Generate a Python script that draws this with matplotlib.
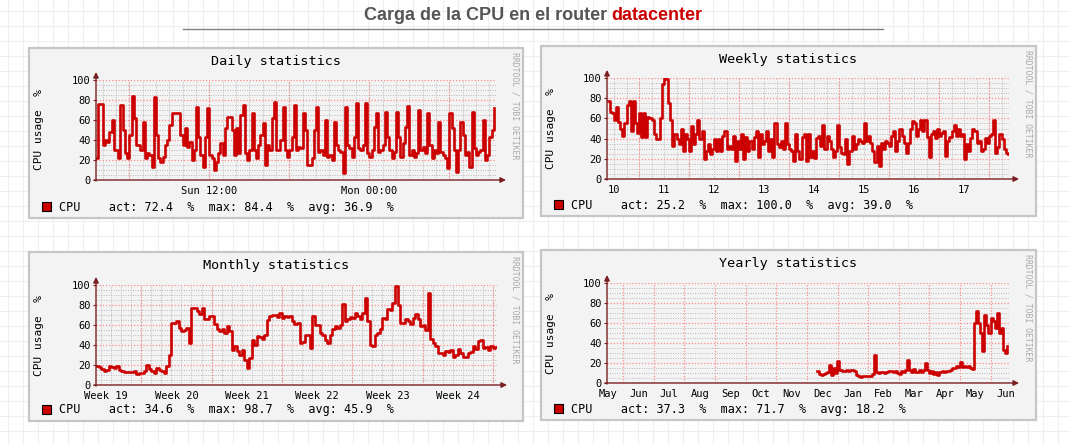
import matplotlib
matplotlib.use('Agg')
import matplotlib.pyplot as plt
from matplotlib.patches import Rectangle
from matplotlib.ticker import MultipleLocator
import numpy as np

plt.rcParams['font.family'] = 'DejaVu Sans Mono'

W, H = 1070, 445
RED = '#cc0000'
AXIS = '#7a2020'
MGRID = '#ff8c8c'
GRID = '#b8b8b8'

# --- daily: hours since Sun 00:00, one value every 10 minutes
daily_start = 3.5
daily_step = 1 / 6
daily_cpu = [22, 76, 76, 35, 40, 38, 48, 60, 30, 30,
             22, 75, 50, 27, 22, 45, 84.4, 62, 35, 35,
             30, 58, 22, 27, 25, 13, 83, 45, 22, 18,
             23, 35, 40, 55, 67, 67, 67, 67, 45, 35,
             52, 33, 38, 20, 30, 73, 43, 25, 13, 43,
             72, 25, 22, 10, 18, 27, 37, 25, 52, 63,
             63, 50, 25, 52, 27, 65, 75, 27, 20, 30,
             67, 30, 22, 35, 45, 57, 15, 35, 30, 62,
             78, 30, 30, 40, 73, 30, 23, 30, 43, 75,
             30, 33, 32, 67, 50, 15, 15, 22, 50, 73,
             28, 30, 25, 60, 23, 25, 20, 58, 35, 30,
             28, 7, 73, 35, 32, 23, 43, 77, 32, 30,
             35, 77, 27, 23, 30, 53, 67, 28, 30, 35,
             68, 43, 30, 22, 28, 68, 43, 23, 37, 53,
             74, 25, 30, 23, 27, 70, 30, 33, 27, 67,
             35, 22, 30, 27, 58, 28, 25, 22, 12, 67,
             52, 30, 8, 30, 58, 45, 25, 28, 13, 68,
             32, 25, 28, 30, 60, 20, 25, 43, 50, 72.4]
daily_labels = ['Sun 12:00', 'Mon 00:00']
daily_label_x = [12, 24]
daily_stats = ('72.4', '84.4', '36.9')

# --- weekly: day of month, one value per hour
weekly_start = 10.375
weekly_step = 1 / 24
weekly_cpu = [77, 66, 65, 58, 71, 56, 50, 43, 55, 73,
              77, 48, 77, 55, 46, 65, 42, 65, 42, 61,
              60, 58, 45, 40, 40, 60, 94, 100, 99, 75,
              58, 33, 45, 40, 35, 50, 28, 45, 40, 28,
              52, 35, 45, 58, 40, 48, 20, 28, 35, 25,
              30, 40, 28, 40, 28, 43, 48, 30, 33, 30,
              43, 18, 38, 30, 45, 20, 42, 28, 38, 30,
              42, 48, 22, 45, 35, 38, 48, 28, 40, 22,
              55, 35, 32, 38, 30, 55, 35, 30, 28, 18,
              45, 28, 20, 42, 45, 18, 45, 22,
              28, 21, 41, 43, 33, 53, 30, 43, 38, 30,
              22, 28, 53, 32, 26, 25, 40, 15, 28, 43,
              30, 35, 40, 38, 36, 55, 38, 43, 36, 28,
              17, 33, 13, 36, 30, 38, 36, 33, 43, 48,
              28, 38, 50, 43, 36, 26, 36, 50, 57, 55,
              43, 50, 58, 48, 58, 42, 22, 45, 48, 41,
              50, 43, 46, 48, 23, 38, 42, 48, 53, 43,
              50, 43, 45, 20, 35, 28, 41, 50, 48, 36,
              38, 28, 30, 41, 36, 43, 45, 58, 26, 32,
              45, 40, 30, 26, 25.2]
weekly_labels = ['10', '11', '12', '13', '14', '15', '16', '17']
weekly_stats = ('25.2', '100.0', '39.0')

# --- monthly: days, one value every 6 hours
monthly_start = 2.5
monthly_step = 0.25
monthly_cpu = [19, 18, 16, 14, 15, 19, 18, 17, 19, 15,
               14, 13, 13, 13, 13, 14, 11, 12, 12, 14,
               20, 16, 14, 12, 17, 15, 14, 12, 19, 30,
               62, 62, 64, 57, 54, 55, 57, 42, 77, 77,
               74, 71, 77, 66, 66, 69, 69, 61, 56, 54,
               56, 52, 59, 54, 35, 39, 34, 30, 35, 25,
               17, 27, 45, 40, 49, 48, 46, 50, 65, 69,
               70, 70, 68, 72, 67, 69, 68, 69, 64, 61,
               62, 42, 43, 50, 50, 37, 69, 60, 60, 52,
               50, 45, 42, 50, 56, 59, 57, 60, 81, 64,
               66, 68, 67, 72, 69, 66, 72, 87, 64, 40,
               39, 50, 52, 56, 67, 66, 76, 75, 82, 98.7,
               80, 62, 62, 66, 64, 61, 67, 71, 66, 59,
               60, 55, 92, 46, 42, 39, 32, 32, 30, 34,
               33, 35, 28, 30, 36, 32, 28, 28, 32, 33,
               39, 36, 44, 45, 37, 38, 35, 39, 37, 38,
               34.6]
monthly_labels = ['Week 19', 'Week 20', 'Week 21', 'Week 22', 'Week 23', 'Week 24']
monthly_stats = ('34.6', '98.7', '45.9')

# --- yearly: months since May 1st, one value every 2 days
yearly_start = 7.33
yearly_step = 1 / 15
yearly_cpu = [12, 9, 8, 9, 10, 11, 18, 8, 15, 10,
              22, 13, 12, 12, 13, 12, 13, 13, 12, 8,
              7, 6, 7, 7, 7, 7, 7, 9, 28, 11,
              10, 11, 11, 10, 11, 12, 12, 11, 12, 10,
              9, 12, 11, 13, 23, 13, 11, 14, 11, 11,
              13, 11, 13, 20, 13, 10, 12, 9, 11, 8,
              11, 12, 11, 12, 12, 13, 15, 15, 17, 16,
              21, 16, 17, 16, 17, 15, 14, 60, 71.7, 60,
              50, 32, 68, 58, 50, 65, 62, 55, 70, 50,
              55, 33, 30, 37.3]
yearly_labels = ['May', 'Jun', 'Jul', 'Aug', 'Sep', 'Oct', 'Nov',
                 'Dec', 'Jan', 'Feb', 'Mar', 'Apr', 'May', 'Jun']
yearly_stats = ('37.3', '71.7', '18.2')

fig = plt.figure(figsize=(W / 100, H / 100), dpi=100)

# page background with its faint square pattern
bg = fig.add_axes([0, 0, 1, 1])
bg.set_xlim(0, W)
bg.set_ylim(H, 0)
bg.set_axisbelow(True)
bg.set_xticks(np.arange(8, W, 15))
bg.set_yticks(np.arange(11, H, 15))
bg.grid(color='#efefef', lw=0.8)
bg.tick_params(length=0, labelbottom=False, labelleft=False)
for s in bg.spines.values():
    s.set_visible(False)

# page title in two colours
r = fig.canvas.get_renderer()
t1 = bg.text(0, 16, 'Carga de la CPU en el router', color='#555555', fontsize=13,
             fontweight='bold', family='Liberation Sans', va='center', ha='left')
t2 = bg.text(0, 16, 'datacenter', color=RED, fontsize=13,
             fontweight='bold', family='Liberation Sans', va='center', ha='left')
w1 = t1.get_window_extent(r).width
w2 = t2.get_window_extent(r).width
gap = 4
x_start = 533 - (w1 + gap + w2) / 2
t1.set_x(x_start)
t2.set_x(x_start + w1 + gap)
bg.plot([183, 883], [29, 29], color='#808080', lw=1)


def panel(box, area, title, t, v, xlim, red_x, minor_step, label_x, labels, stats):
    x0, y0, x1, y1 = box
    bg.add_patch(Rectangle((x0, y0), x1 - x0, y1 - y0, facecolor='#f3f3f3',
                           edgecolor='#c6c6c6', lw=1.6, zorder=1))
    ax = fig.add_axes([area[0] / W, 1 - area[3] / H,
                       (area[2] - area[0]) / W, (area[3] - area[1]) / H])
    ax.set_facecolor('none')
    ax.step(t, v, where='post', color=RED, lw=1.9, zorder=4)
    ax.set_xlim(xlim)
    ax.set_ylim(0, 100)
    for s in ax.spines.values():
        s.set_visible(False)

    ax.set_yticks(range(0, 101, 20))
    ax.yaxis.set_minor_locator(MultipleLocator(5))
    ax.grid(axis='y', which='major', color=MGRID, ls=(0, (1, 1.5)), lw=0.9, zorder=1)
    ax.grid(axis='y', which='minor', color=GRID, ls=(0, (1, 1.5)), lw=0.7, zorder=1)
    ax.xaxis.remove_overlapping_locs = False
    if minor_step:
        ax.xaxis.set_minor_locator(MultipleLocator(minor_step))
        ax.grid(axis='x', which='minor', color=GRID, ls=(0, (1, 1.5)), lw=0.7, zorder=1)
    else:
        ax.xaxis.set_minor_locator(plt.NullLocator())
    for xr in red_x:
        ax.axvline(xr, color=MGRID, ls=(0, (1, 1.5)), lw=0.9, zorder=2)
    ax.set_xticks(label_x, labels)
    ax.tick_params(axis='x', which='both', length=0, pad=4, labelsize=7.5)
    ax.tick_params(axis='y', which='major', length=2, pad=2, labelsize=7.5, color=AXIS)
    ax.tick_params(axis='y', which='minor', length=0)

    # axes with arrows
    ax.annotate('', xy=(1.025, 0), xytext=(-0.005, 0), xycoords='axes fraction',
                arrowprops=dict(arrowstyle='-|>', color=AXIS, lw=1, mutation_scale=8,
                                shrinkA=0, shrinkB=0), zorder=5)
    ax.annotate('', xy=(0, 1.08), xytext=(0, -0.01), xycoords='axes fraction',
                arrowprops=dict(arrowstyle='-|>', color=AXIS, lw=1, mutation_scale=8,
                                shrinkA=0, shrinkB=0), zorder=5)

    cx = (x0 + x1) / 2
    bg.text(cx, y0 + 13, title, ha='center', va='center', fontsize=9.7)
    bg.text(x0 + 10, (area[1] + area[3]) / 2, 'CPU usage  %', rotation=90,
            ha='center', va='center', fontsize=8)
    bg.text(x1 - 8, y0 + 4, 'RRDTOOL / TOBI OETIKER', rotation=270, ha='center',
            va='top', fontsize=5.9, color='#aaaaaa')
    ly = y1 - 11
    bg.add_patch(Rectangle((x0 + 13, ly - 5), 9, 9, facecolor=RED, edgecolor='black',
                           lw=0.8, zorder=2))
    txt = 'CPU    act: %s  %%  max: %s  %%  avg: %s  %%' % stats
    bg.text(x0 + 30, ly, txt, ha='left', va='center', fontsize=8.5)
    return ax


daily_t = daily_start + daily_step * np.arange(len(daily_cpu))
weekly_t = weekly_start + weekly_step * np.arange(len(weekly_cpu))
monthly_t = monthly_start + monthly_step * np.arange(len(monthly_cpu))
yearly_t = yearly_start + yearly_step * np.arange(len(yearly_cpu))

panel((29, 48, 523, 218), (96, 80, 496, 180), 'Daily statistics',
      daily_t, daily_cpu, (3.5, 33.5), [6, 12, 18, 24, 30], 1,
      daily_label_x, daily_labels, daily_stats)

panel((541, 46, 1036, 216), (607, 78, 1009, 179), 'Weekly statistics',
      weekly_t, weekly_cpu, (10.36, 18.4), list(range(11, 19)), 0.25,
      [d + 0.5 for d in range(10, 18)], weekly_labels, weekly_stats)

panel((29, 252, 523, 421), (96, 285, 497, 385), 'Monthly statistics',
      monthly_t, monthly_cpu, (2.5, 42.4), list(range(7, 43, 7)), 1,
      [3.5 + 7 * k for k in range(6)], monthly_labels, monthly_stats)

panel((541, 250, 1036, 420), (607, 283, 1009, 383), 'Yearly statistics',
      yearly_t, yearly_cpu, (0.47, 13.6), list(range(1, 14)), None,
      [m + 0.5 for m in range(14)], yearly_labels, yearly_stats)

fig.savefig('out.png', dpi=100)
